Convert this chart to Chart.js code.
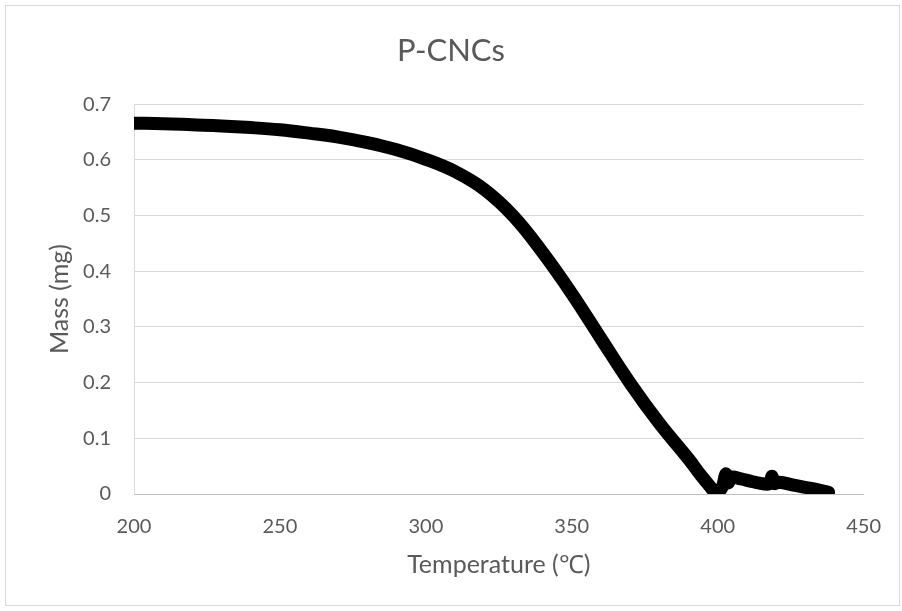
<!DOCTYPE html>
<html>
<head>
<meta charset="utf-8">
<script src="https://cdn.jsdelivr.net/npm/chart.js@4/dist/chart.umd.min.js"></script>
<style>
  html, body { margin: 0; padding: 0; background: #fff; }
  #wrap { width: 902px; height: 611px; position: relative; }
</style>
</head>
<body>
<div id="wrap"><canvas id="grafica" width="902" height="611"></canvas></div>
<script>
// Curva de masa (TGA)
const temperaturas = [200, 210, 220, 230, 240, 250, 260, 270, 280, 290, 300, 310, 320, 330, 340, 350, 360, 370, 380, 390, 394.3, 397, 399.5, 401.5, 402.8, 403.6, 404.6, 408, 412, 416, 417.8, 418.6, 419.4, 421, 426, 432, 438];
const masas = [0.666, 0.665, 0.663, 0.661, 0.658, 0.654, 0.648, 0.641, 0.631, 0.618, 0.601, 0.579, 0.547, 0.499, 0.434, 0.360, 0.279, 0.199, 0.127, 0.063, 0.033, 0.016, 0.003, 0.012, 0.036, 0.020, 0.030, 0.027, 0.022, 0.018, 0.019, 0.032, 0.019, 0.021, 0.016, 0.010, 0.003];
const ticksX = [200, 250, 300, 350, 400, 450];
const ticksY = [0, 0.1, 0.2, 0.3, 0.4, 0.5, 0.6, 0.7];

const gris = '#595959';
const fuente = 'Lato, "Open Sans", sans-serif';

// marco exterior del gráfico
const marco = {
    id: 'marco',
    beforeDraw(chart) {
        const c = chart.ctx;
        c.save();
        c.fillStyle = '#fff';
        c.fillRect(0, 0, chart.width, chart.height);
        c.strokeStyle = '#d9d9d9';
        c.lineWidth = 1;
        c.strokeRect(5.5, 5.5, 894, 600);
        c.restore();
    }
};

const puntos = temperaturas.map((t, i) => ({ x: t, y: masas[i] }));

new Chart(document.getElementById('grafica').getContext('2d'), {
    type: 'line',
    data: {
        datasets: [{
            data: puntos,
            borderColor: '#000',
            borderWidth: 13,
            borderCapStyle: 'round',
            borderJoinStyle: 'round',
            pointRadius: 0,
            fill: false,
            tension: 0.4
        }]
    },
    options: {
        responsive: false,
        animation: false,
        // padding izquierdo = derecho para que el título quede centrado en el lienzo
        layout: { padding: { left: 36, right: 36, top: 0, bottom: 0 } },
        plugins: {
            legend: { display: false },
            tooltip: { enabled: false },
            title: {
                display: true,
                text: 'P-CNCs',
                color: gris,
                font: { family: fuente, size: 31, weight: 'normal' },
                padding: { top: 32, bottom: 35 }
            }
        },
        scales: {
            x: {
                type: 'linear',
                min: 200,
                max: 450,
                afterFit(s) { s.height = 117; },
                afterBuildTicks(s) { s.ticks = ticksX.map(v => ({ value: v })); },
                grid: { display: false, drawTicks: false },
                border: { display: true, color: '#bfbfbf', width: 1 },
                ticks: { color: gris, font: { family: fuente, size: 20 }, padding: 21, maxRotation: 0 },
                title: {
                    display: true,
                    text: 'Temperature (℃)',
                    color: gris,
                    font: { family: fuente, size: 25 },
                    padding: { top: 0, bottom: 31 }
                }
            },
            y: {
                min: 0,
                max: 0.7,
                afterFit(s) { s.width = 98; },
                afterBuildTicks(s) { s.ticks = ticksY.map(v => ({ value: v })); },
                grid: { color: '#d9d9d9', lineWidth: 1, drawTicks: false },
                border: { display: true, color: '#d9d9d9', width: 1 },
                ticks: {
                    color: gris,
                    font: { family: fuente, size: 20 },
                    padding: 23,
                    callback: v => String(+v.toFixed(1))
                },
                title: {
                    display: true,
                    text: 'Mass (mg)',
                    color: gris,
                    font: { family: fuente, size: 25 },
                    padding: { top: 9, bottom: 0 }
                }
            }
        }
    },
    plugins: [marco]
});
</script>
</body>
</html>
